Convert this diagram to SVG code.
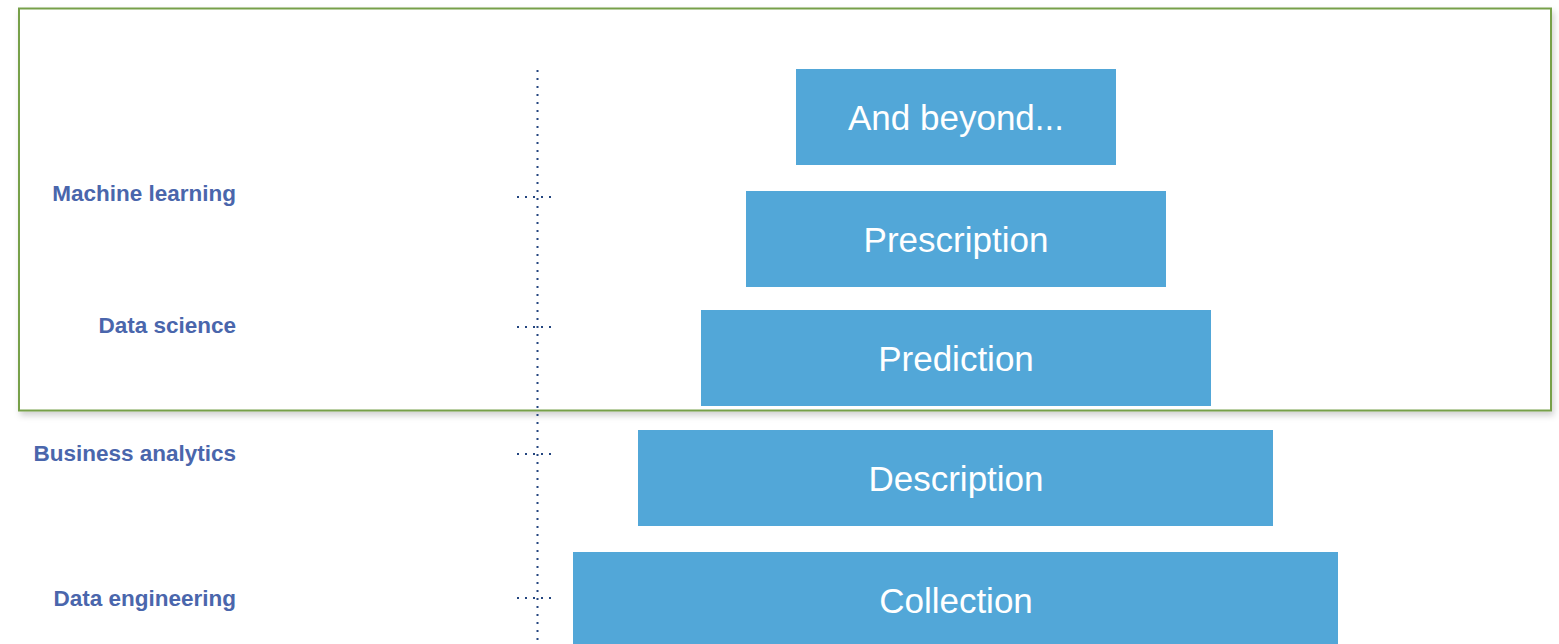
<svg xmlns="http://www.w3.org/2000/svg" width="1559" height="644" viewBox="0 0 1559 644">
<defs>
<filter id="sh" x="-5%" y="-5%" width="110%" height="115%">
<feDropShadow dx="2" dy="4" stdDeviation="3" flood-color="#000" flood-opacity="0.18"/>
</filter>
<style>
.lbl{font-family:"Liberation Sans",Arial,sans-serif;font-weight:bold;font-size:22.5px;fill:#4a66ac;text-anchor:end}
.box{fill:#52a7d8}
.bt{font-family:"Liberation Sans",Arial,sans-serif;font-size:35px;fill:#ffffff;text-anchor:middle}
.dot{stroke:#23457f;stroke-width:2;stroke-dasharray:2 6;fill:none}
</style>
</defs>
<rect width="1559" height="644" fill="#ffffff"/>
<g id="frame">
<rect x="19" y="8.5" width="1532" height="402" fill="#ffffff" stroke="#77a04a" stroke-width="2" filter="url(#sh)"/>
</g>
<g id="connectors">
<line class="dot" x1="537.5" y1="70" x2="537.5" y2="644"/>
<line class="dot" x1="517" y1="197" x2="553" y2="197"/>
<line class="dot" x1="517" y1="327" x2="553" y2="327"/>
<line class="dot" x1="517" y1="454" x2="553" y2="454"/>
<line class="dot" x1="517" y1="598" x2="553" y2="598"/>
</g>
<g id="label-ml"><text class="lbl" x="236" y="201">Machine learning</text></g>
<g id="label-ds"><text class="lbl" x="236" y="333">Data science</text></g>
<g id="label-ba"><text class="lbl" x="236" y="461">Business analytics</text></g>
<g id="label-de"><text class="lbl" x="236" y="606">Data engineering</text></g>
<g id="node-beyond"><rect class="box" x="796" y="69" width="320" height="96"/><text class="bt" x="956" y="130">And beyond...</text></g>
<g id="node-prescription"><rect class="box" x="746" y="191" width="420" height="96"/><text class="bt" x="956" y="252">Prescription</text></g>
<g id="node-prediction"><rect class="box" x="701" y="310" width="510" height="96"/><text class="bt" x="956" y="371">Prediction</text></g>
<g id="node-description"><rect class="box" x="638" y="430" width="635" height="96"/><text class="bt" x="956" y="491">Description</text></g>
<g id="node-collection"><rect class="box" x="573" y="552" width="765" height="96"/><text class="bt" x="956" y="613">Collection</text></g>
</svg>
